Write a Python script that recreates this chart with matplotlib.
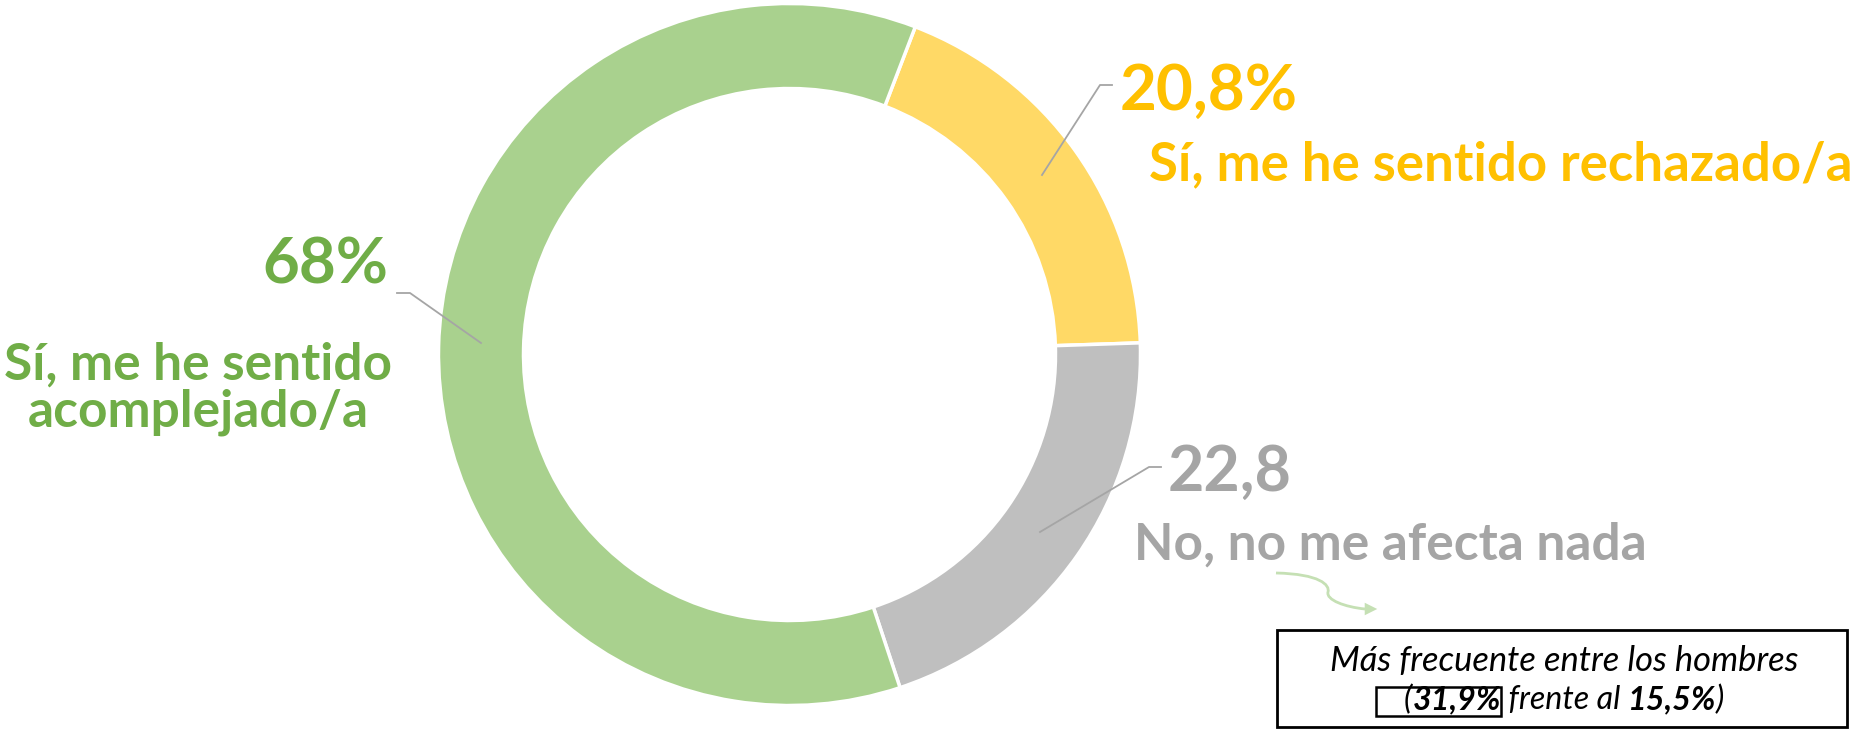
import matplotlib
matplotlib.use("Agg")
import matplotlib.pyplot as plt
from matplotlib.patches import Rectangle, PathPatch
from matplotlib.path import Path

# ---- data ----
categories = ["Sí, me he sentido rechazado/a", "No, no me afecta nada", "Sí, me he sentido\nacomplejado/a"]
values = [20.8, 22.8, 68]
value_labels = ["20,8%", "22,8", "68%"]
wedge_colors = ["#FFD966", "#BFBFBF", "#A9D18E"]
text_colors = ["#FFC000", "#A5A5A5", "#70AD47"]
note_line1 = "Más frecuente entre los hombres"
note_men = "31,9%"
note_women = "15,5%"

W, H = 1853, 732
fig = plt.figure(figsize=(W / 100, H / 100), dpi=100)
ax = fig.add_axes([0, 0, 1, 1])
renderer = fig.canvas.get_renderer()

def Y(y):
    return H - y

cx, cy, R = 789.5, 354.5, 351
ax.pie(values, colors=wedge_colors, startangle=69, counterclock=False,
       radius=R, center=(cx, Y(cy)),
       wedgeprops=dict(width=R - 266, edgecolor="white", linewidth=2.5))
ax.set_xlim(0, W)
ax.set_ylim(0, H)
ax.set_aspect("equal")
ax.axis("off")

FONT = "Lato"
lc = "#A5A5A5"

def width_of(t):
    return t.get_window_extent(renderer).width

def fit(t, target):
    fs = t.get_fontsize()
    for _ in range(3):
        fs = fs * target / width_of(t)
        t.set_fontsize(fs)
    return fs

# leader lines
ax.plot([1042, 1100, 1112], [Y(175), Y(85), Y(85)], color=lc, lw=1.3)
ax.plot([481, 410, 397], [Y(343), Y(293), Y(293)], color=lc, lw=1.3)
ax.plot([1040, 1149, 1161], [Y(532), Y(467), Y(467)], color=lc, lw=1.3)

bold = dict(fontweight="bold", family=FONT, va="baseline")

# yellow
t = ax.text(1120, Y(110), value_labels[0], color=text_colors[0], fontsize=44, ha="left", **bold)
fit(t, 178)
t = ax.text(1149, Y(180), categories[0], color=text_colors[0], fontsize=35, ha="left", **bold)
fit(t, 704)
# gray
t = ax.text(1168, Y(491), value_labels[1], color=text_colors[1], fontsize=44, ha="left", **bold)
fit(t, 124)
t = ax.text(1134, Y(560), categories[1], color=text_colors[1], fontsize=36, ha="left", **bold)
fit(t, 513)
# green
t = ax.text(388, Y(284), value_labels[2], color=text_colors[2], fontsize=46, ha="right", **bold)
fit(t, 126)
l1, l2 = categories[2].split("\n")
t = ax.text(198, Y(380), l1, color=text_colors[2], fontsize=36, ha="center", **bold)
fs = fit(t, 388)
ax.text(198, Y(427), l2, color=text_colors[2], fontsize=fs, ha="center", **bold)

# curved arrow
ac = "#C5E0B4"
verts = [(1276, Y(573)), (1320, Y(574)), (1330, Y(585)), (1328, Y(592)),
         (1326, Y(600)), (1345, Y(607)), (1365, Y(609))]
codes = [Path.MOVETO] + [Path.CURVE4] * 6
ax.add_patch(PathPatch(Path(verts, codes), fill=False, edgecolor=ac, lw=2))
ax.annotate("", xy=(1380, Y(609)), xytext=(1362, Y(609)),
            arrowprops=dict(arrowstyle="-|>,head_length=0.9,head_width=0.45",
                            color=ac, lw=0))

# note box
ax.add_patch(Rectangle((1277, Y(727)), 570, 97, fill=False, edgecolor="black", lw=2))
it = dict(style="italic", family=FONT, va="baseline", color="black")
t = ax.text(1564, Y(671), note_line1, fontsize=22, ha="center", fontweight="normal", **it)
nfs = fit(t, 469)

pieces = [("(", "normal"), (note_men, "bold"), (" frente al ", "normal"),
          (note_women, "bold"), (")", "normal")]
texts = []
for s, wgt in pieces:
    texts.append(ax.text(0, Y(709), s, fontsize=nfs, fontweight=wgt, ha="left", **it))
total = sum(width_of(tt) for tt in texts)
scale = 321 / total
for tt in texts:
    tt.set_fontsize(nfs * scale)
x = 1404
for tt in texts:
    tt.set_x(x)
    x += width_of(tt)
ax.add_patch(Rectangle((1376, Y(716)), 125, 29, fill=False, edgecolor="black", lw=1.8))

fig.savefig("out.png", dpi=100)
